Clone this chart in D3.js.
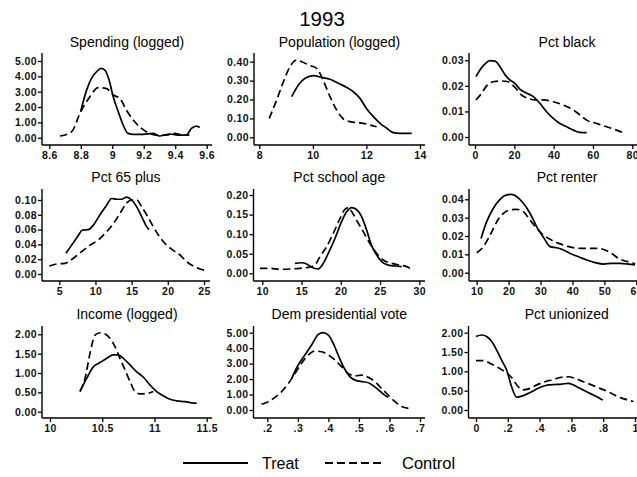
<!DOCTYPE html>
<html>
<head>
<meta charset="utf-8">
<script src="https://cdn.jsdelivr.net/npm/d3@7/dist/d3.min.js"></script>
<style>
  html, body { margin: 0; padding: 0; background: #fff; }
  svg { display: block; }
</style>
</head>
<body>
<svg id="chart" width="637" height="477"></svg>
<script>
// ---------------- DATA ----------------
const chartTitle = "1993";
const panelTitles = ["Spending (logged)", "Population (logged)", "Pct black",
  "Pct 65 plus", "Pct school age", "Pct renter",
  "Income (logged)", "Dem presidential vote", "Pct unionized"];
const seriesNames = ["Treat", "Control"];

// [x, density] pairs
const spendTreat = [[8.799,1.7],[8.837,3.1],[8.868,3.87],[8.9,4.3],[8.928,4.52],[8.953,4.41],[8.98,3.76],[9.006,2.67],[9.038,1.7],[9.069,0.83],[9.1,0.28],[9.133,0.22],[9.196,0.22],[9.26,0.28],[9.3,0.11],[9.365,0.24],[9.43,0.17],[9.47,0.17],[9.503,0.61],[9.535,0.76],[9.556,0.67]];
const spendControl = [[8.668,0.11],[8.742,0.39],[8.795,1.59],[8.858,2.67],[8.911,3.26],[8.964,3.2],[9.006,2.78],[9.048,2.57],[9.09,1.8],[9.133,1.15],[9.186,0.61],[9.238,0.28],[9.29,0.17],[9.344,0.17],[9.397,0.28],[9.45,0.17],[9.49,0.17]];

const popTreat = [[9.21,0.215],[9.46,0.277],[9.71,0.312],[10.02,0.326],[10.33,0.317],[10.64,0.307],[10.96,0.285],[11.26,0.264],[11.51,0.241],[11.76,0.206],[12.0,0.153],[12.26,0.109],[12.51,0.074],[12.76,0.048],[13.0,0.025],[13.25,0.021],[13.56,0.021],[13.69,0.021]];
const popControl = [[8.37,0.1],[8.65,0.198],[8.9,0.294],[9.15,0.374],[9.39,0.409],[9.58,0.4],[9.89,0.38],[10.14,0.365],[10.39,0.3],[10.64,0.215],[10.89,0.144],[11.14,0.097],[11.39,0.083],[11.64,0.078],[11.88,0.074],[12.13,0.065],[12.38,0.056]];

const blackTreat = [[0.5,0.0236],[2.5,0.0262],[5.1,0.0286],[7.6,0.0299],[10.2,0.0297],[12.7,0.0275],[15.3,0.0243],[17.8,0.0223],[20.3,0.021],[22.9,0.0186],[26.3,0.0171],[29.7,0.0158],[33,0.0132],[36.4,0.0099],[39.8,0.0073],[43.2,0.0053],[46.6,0.004],[50,0.0027],[53.4,0.0018],[56.8,0.0017]];
const blackControl = [[0.5,0.0145],[3.4,0.0171],[5.9,0.02],[9.3,0.0216],[13.6,0.0219],[16.9,0.0216],[20.3,0.0194],[23.7,0.0164],[27.1,0.0151],[30.5,0.0145],[34.7,0.0145],[39.8,0.0138],[44.9,0.0125],[50,0.0106],[53.4,0.0086],[56.8,0.0066],[61.9,0.0053],[67,0.004],[72,0.0027],[76.3,0.0014]];

const old65Treat = [[5.92,0.028],[6.7,0.039],[7.49,0.05],[8.23,0.0595],[9.0,0.06],[9.7,0.066],[10.62,0.08],[11.54,0.093],[12.24,0.102],[12.93,0.101],[13.6,0.101],[14.31,0.104],[15.0,0.1],[15.69,0.091],[16.38,0.0775],[17.07,0.064],[17.4,0.06]];
const old65Control = [[3.62,0.0108],[4.63,0.0135],[5.78,0.0144],[6.94,0.0212],[8.09,0.0302],[9.24,0.039],[10.39,0.046],[11.54,0.057],[12.47,0.068],[13.39,0.082],[14.31,0.096],[15.0,0.1],[15.7,0.1],[16.38,0.091],[17.07,0.08],[17.99,0.064],[18.92,0.0495],[19.84,0.039],[20.76,0.032],[21.68,0.0257],[22.6,0.0167],[23.53,0.0108],[24.45,0.0068],[25.4,0.0045]];

const schoolTreat = [[14.16,0.0255],[15.0,0.027],[15.65,0.0238],[16.28,0.0153],[17.13,0.011],[17.77,0.0255],[18.4,0.051],[19.26,0.089],[20.1,0.132],[20.74,0.157],[21.38,0.168],[22.0,0.163],[22.65,0.145],[23.28,0.111],[23.9,0.072],[24.57,0.0468],[25.2,0.03],[26.05,0.021],[26.9,0.0187],[27.75,0.017]];
const schoolControl = [[9.7,0.0128],[10.98,0.0128],[12.25,0.0102],[13.52,0.011],[14.8,0.0128],[15.86,0.0153],[16.7,0.021],[17.35,0.0426],[18.2,0.068],[19.04,0.102],[19.9,0.14],[20.5,0.163],[20.96,0.168],[21.4,0.157],[22.0,0.136],[22.87,0.106],[23.7,0.0766],[24.57,0.051],[25.4,0.034],[26.5,0.0255],[27.5,0.021],[28.4,0.017],[28.8,0.0128]];

const renterTreat = [[11.36,0.0187],[13.13,0.0278],[15.22,0.0351],[17.3,0.04],[19.4,0.0424],[20.97,0.0427],[22.5,0.0415],[24.6,0.0378],[26.7,0.0324],[28.8,0.025],[30.9,0.0193],[33,0.0142],[35.1,0.0136],[37.2,0.0124],[39.3,0.0105],[41.9,0.0087],[44.5,0.0069],[47.1,0.0055],[49.7,0.0047],[52.3,0.0051],[54.9,0.0051],[57.5,0.0047],[59.6,0.0042]];
const renterControl = [[10,0.0109],[12.1,0.0142],[14.2,0.0205],[16.3,0.0278],[18.4,0.0324],[20.5,0.0342],[22.5,0.0345],[24.6,0.0333],[26.7,0.0287],[28.8,0.0242],[30.9,0.0205],[33,0.0182],[35.1,0.0164],[37.2,0.0151],[39.8,0.0138],[42.4,0.0133],[45.5,0.0133],[48.1,0.0133],[50.2,0.0124],[52.3,0.0105],[54.4,0.0078],[56.5,0.0064],[58.6,0.0055],[59.6,0.0047]];

const incomeTreat = [[10.287,0.53],[10.351,0.86],[10.415,1.16],[10.479,1.27],[10.543,1.38],[10.606,1.47],[10.654,1.47],[10.702,1.38],[10.766,1.21],[10.83,1.03],[10.894,0.89],[10.957,0.69],[11.021,0.52],[11.085,0.41],[11.149,0.32],[11.213,0.28],[11.293,0.26],[11.356,0.23],[11.404,0.22]];
const incomeControl = [[10.287,0.52],[10.335,0.86],[10.383,1.51],[10.431,1.98],[10.479,2.04],[10.527,2.01],[10.574,1.9],[10.622,1.68],[10.67,1.38],[10.718,1.08],[10.766,0.78],[10.814,0.52],[10.862,0.46],[10.926,0.47],[10.989,0.52]];

const demTreat = [[0.28,2.05],[0.301,2.91],[0.323,3.56],[0.345,4.2],[0.367,4.89],[0.383,5.0],[0.4,4.85],[0.416,4.31],[0.432,3.56],[0.449,2.8],[0.47,2.16],[0.492,1.9],[0.514,1.83],[0.536,1.72],[0.558,1.4],[0.58,1.03],[0.596,0.82]];
const demControl = [[0.181,0.37],[0.203,0.54],[0.225,0.82],[0.247,1.19],[0.269,1.72],[0.291,2.37],[0.312,3.02],[0.334,3.56],[0.356,3.81],[0.378,3.77],[0.4,3.56],[0.422,3.23],[0.443,2.8],[0.465,2.37],[0.487,2.2],[0.509,2.26],[0.531,2.11],[0.553,1.83],[0.574,1.4],[0.596,0.97],[0.618,0.54],[0.64,0.22],[0.662,0.11]];

const unionTreat = [[0,1.9],[0.036,1.94],[0.067,1.9],[0.099,1.77],[0.13,1.55],[0.161,1.29],[0.193,1.03],[0.224,0.6],[0.256,0.33],[0.287,0.36],[0.329,0.43],[0.371,0.52],[0.413,0.6],[0.455,0.65],[0.497,0.66],[0.539,0.67],[0.58,0.69],[0.612,0.65],[0.654,0.56],[0.696,0.47],[0.738,0.39],[0.78,0.3],[0.797,0.26]];
const unionControl = [[0,1.28],[0.046,1.28],[0.088,1.21],[0.13,1.12],[0.182,0.99],[0.224,0.84],[0.266,0.6],[0.298,0.52],[0.34,0.56],[0.382,0.65],[0.434,0.73],[0.486,0.79],[0.528,0.84],[0.58,0.86],[0.623,0.82],[0.675,0.73],[0.727,0.65],[0.78,0.56],[0.832,0.47],[0.885,0.36],[0.937,0.28],[0.99,0.22]];

// tick values and labels
const xTickVals = [
  [8.6,8.8,9,9.2,9.4,9.6], [8,10,12,14], [0,20,40,60,80],
  [5,10,15,20,25], [10,15,20,25,30], [10,20,30,40,50,60],
  [10,10.5,11,11.5], [0.2,0.3,0.4,0.5,0.6,0.7], [0,0.2,0.4,0.6,0.8,1]];
const xTickLabels = [
  ["8.6","8.8","9","9.2","9.4","9.6"], ["8","10","12","14"], ["0","20","40","60","80"],
  ["5","10","15","20","25"], ["10","15","20","25","30"], ["10","20","30","40","50","60"],
  ["10","10.5","11","11.5"], [".2",".3",".4",".5",".6",".7"], ["0",".2",".4",".6",".8","1"]];
const yTickVals = [
  [0,1,2,3,4,5], [0,0.1,0.2,0.3,0.4], [0,0.01,0.02,0.03],
  [0,0.02,0.04,0.06,0.08,0.10], [0,0.05,0.10,0.15,0.20], [0,0.01,0.02,0.03,0.04],
  [0,0.5,1,1.5,2], [0,1,2,3,4,5], [0,0.5,1,1.5,2]];

const treatSeries = [spendTreat, popTreat, blackTreat, old65Treat, schoolTreat, renterTreat, incomeTreat, demTreat, unionTreat];
const controlSeries = [spendControl, popControl, blackControl, old65Control, schoolControl, renterControl, incomeControl, demControl, unionControl];

// ---------------- LAYOUT ----------------
const layout = [
  {ax:42,  ay:145, top:53,  xr:[49.3,206.7], yr:[137.7,61],   xEnd:212},
  {ax:254, ay:145, top:53,  xr:[259.3,420],  yr:[137.3,61.7], xEnd:425},
  {ax:469, ay:145, top:53,  xr:[475,632.3],  yr:[137,60.3],   xEnd:640},
  {ax:42,  ay:281, top:189, xr:[59.3,204],   yr:[274,200],    xEnd:210},
  {ax:253.5,ay:281, top:189, xr:[262.3,419.3],yr:[273.3,195],  xEnd:425},
  {ax:469, ay:281, top:189, xr:[476.7,636.3],yr:[272.7,199.3], xEnd:640},
  {ax:42,  ay:418, top:326, xr:[50,206.7],   yr:[411.7,334.3], xEnd:212},
  {ax:253.5,ay:418, top:326, xr:[267.3,420],  yr:[410,332.7],   xEnd:425},
  {ax:468.5,ay:418, top:326, xr:[476,635],    yr:[410,332.7],   xEnd:640}];
const titleBase = [46.5, 182, 319];

const FONT = "'Liberation Sans', Arial, Helvetica, sans-serif";
const svg = d3.select("#chart");
svg.append("rect").attr("width", 637).attr("height", 477).attr("fill", "#fff");

svg.append("text").attr("x", 322).attr("y", 25.5).attr("text-anchor", "middle")
  .attr("font-family", FONT).attr("font-size", 20.5).attr("fill", "#000").text(chartTitle);

const dash = "7.5,4";

layout.forEach((L, i) => {
  const xv = xTickVals[i], yv = yTickVals[i];
  const x = d3.scaleLinear().domain([xv[0], xv[xv.length-1]]).range(L.xr);
  const y = d3.scaleLinear().domain([yv[0], yv[yv.length-1]]).range(L.yr);
  const g = svg.append("g");

  // title
  g.append("text").attr("x", (L.ax + Math.min(L.xEnd, 637)) / 2 + (L.xEnd > 637 ? 14 : 0))
    .attr("y", titleBase[Math.floor(i/3)]).attr("text-anchor", "middle")
    .attr("font-family", FONT).attr("font-size", 14).attr("fill", "#000").text(panelTitles[i]);

  // axes
  const yAxis = d3.axisLeft(y).tickValues(yv).tickFormat(d3.format(".2f")).tickSize(4).tickPadding(1);
  const ya = g.append("g").attr("transform", `translate(${L.ax},0)`).call(yAxis);
  const xAxis = d3.axisBottom(x).tickValues(xv).tickFormat((d, k) => xTickLabels[i][k]).tickSize(4).tickPadding(2.5);
  const xa = g.append("g").attr("transform", `translate(0,${L.ay})`).call(xAxis);
  [ya, xa].forEach(a => {
    a.select(".domain").remove();
    a.selectAll("line").attr("stroke", "#000").attr("stroke-width", 1.3);
    a.selectAll("text").attr("font-family", FONT).attr("font-size", 10.5).attr("font-weight", "bold")
      .attr("letter-spacing", "0.4px").attr("fill", "#111");
  });
  g.append("line").attr("x1", L.ax).attr("x2", L.ax).attr("y1", L.top).attr("y2", L.ay)
    .attr("stroke", "#000").attr("stroke-width", 1.4);
  g.append("line").attr("x1", L.ax).attr("x2", L.xEnd).attr("y1", L.ay).attr("y2", L.ay)
    .attr("stroke", "#000").attr("stroke-width", 1.4);

  const line = d3.line().x(d => x(d[0])).y(d => y(d[1])).curve(d3.curveMonotoneX);
  g.append("path").datum(controlSeries[i]).attr("d", line).attr("fill", "none")
    .attr("stroke", "#000").attr("stroke-width", 1.7).attr("stroke-dasharray", dash);
  g.append("path").datum(treatSeries[i]).attr("d", line).attr("fill", "none")
    .attr("stroke", "#000").attr("stroke-width", 1.7);
});

// legend
const lg = svg.append("g");
lg.append("line").attr("x1", 183).attr("x2", 248).attr("y1", 463).attr("y2", 463)
  .attr("stroke", "#000").attr("stroke-width", 1.8);
lg.append("text").attr("x", 262).attr("y", 469).attr("font-family", FONT).attr("font-size", 16)
  .attr("fill", "#000").text(seriesNames[0]);
lg.append("line").attr("x1", 325).attr("x2", 385).attr("y1", 463).attr("y2", 463)
  .attr("stroke", "#000").attr("stroke-width", 1.8).attr("stroke-dasharray", "8,4");
lg.append("text").attr("x", 402).attr("y", 469).attr("font-family", FONT).attr("font-size", 16.5)
  .attr("fill", "#000").text(seriesNames[1]);
</script>
</body>
</html>
